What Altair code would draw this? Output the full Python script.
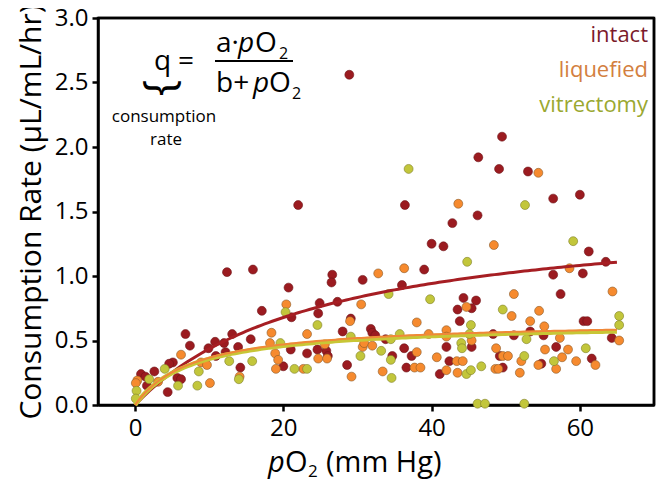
import altair as alt
import pandas as pd

FONT = "Open Sans"

series = ["intact", "liquefied", "vitrectomy"]

intact_x = [28.9, 49.5, 46.3, 49.1, 53.0, 36.4, 56.4, 60.0, 42.8, 46.2, 40.0, 41.6, 61.2, 63.5,
            39.0, 56.4, 60.4, 22.0, 12.4, 15.9, 26.6, 26.5, 30.7, 36.0, 20.7, 17.1, 21.1, 24.9,
            24.7, 27.3, 29.1, 28.0, 44.3, 46.0, 43.5, 45.4, 43.8, 31.8, 32.0, 32.4, 33.8, 45.4,
            34.7, 36.3, 37.3, 42.0, 42.4, 36.6, 41.1, 48.3, 51.1, 53.3, 55.1, 57.4, 60.5, 61.0,
            64.3, 56.8, 49.2, 61.6, 49.6, 54.8, 28.6, 21.0, 20.0, 23.2, 24.6, 25.8, 26.0, 15.6,
            13.9, 13.1, 14.2, 6.8, 7.4, 10.8, 12.0, 12.2, 9.9, 10.9, 5.1, 4.6, 2.6, 0.8, 1.4,
            1.6, 4.4, 5.7, 6.2]
intact_y = [2.56, 2.08, 1.92, 1.83, 1.81, 1.55, 1.60, 1.63, 1.41, 1.47, 1.25, 1.23, 1.19, 1.11,
            1.05, 1.01, 1.02, 1.55, 1.03, 1.05, 1.01, 0.95, 0.97, 0.93, 0.91, 0.73, 0.68, 0.79,
            0.71, 0.80, 0.67, 0.57, 0.83, 0.81, 0.74, 0.75, 0.65, 0.59, 0.56, 0.54, 0.51, 0.45,
            0.38, 0.44, 0.38, 0.45, 0.34, 0.29, 0.24, 0.55, 0.54, 0.57, 0.54, 0.86, 0.65, 0.65,
            0.52, 0.45, 0.38, 0.36, 0.29, 0.32, 0.31, 0.43, 0.30, 0.40, 0.43, 0.42, 0.38, 0.51,
            0.45, 0.55, 0.29, 0.55, 0.46, 0.49, 0.48, 0.41, 0.44, 0.38, 0.33, 0.32, 0.26, 0.24, 0.22,
            0.15, 0.10, 0.21, 0.20]

liquefied_x = [54.4, 43.6, 48.4, 36.3, 32.8, 58.6, 30.5, 20.4, 18.4, 18.2, 18.9, 19.3, 19.0, 22.7,
               23.2, 24.7, 25.9, 25.6, 29.0, 29.2, 30.7, 30.9, 14.1, 44.7, 38.0, 39.6, 42.0, 42.0,
               45.4, 32.0, 38.0, 40.7, 43.4, 44.2, 37.7, 38.5, 33.4, 42.0, 43.5, 48.7, 48.6, 51.1,
               64.4, 50.8, 54.5, 53.3, 55.2, 57.3, 65.3, 55.3, 58.4, 49.6, 50.3, 52.1, 57.6, 59.5,
               62.1, 49.0, 51.9, 54.4, 56.8, 6.2, 8.9, 9.7, 10.1, 3.1, 0.3, 0.1]
liquefied_y = [1.80, 1.56, 1.24, 1.06, 1.02, 1.06, 0.78, 0.78, 0.56, 0.48, 0.40, 0.35, 0.28, 0.28,
               0.55, 0.36, 0.36, 0.47, 0.65, 0.22, 0.45, 0.48, 0.22, 0.76, 0.64, 0.55, 0.58, 0.53,
               0.50, 0.46, 0.41, 0.37, 0.34, 0.34, 0.29, 0.29, 0.26, 0.27, 0.25, 0.44, 0.28, 0.86,
               0.88, 0.69, 0.73, 0.65, 0.61, 0.52, 0.50, 0.43, 0.43, 0.38, 0.38, 0.34, 0.37, 0.34,
               0.31, 0.28, 0.25, 0.31, 0.28, 0.39, 0.33, 0.31, 0.17, 0.18, 0.19, 0.17]

vitrectomy_x = [36.9, 52.6, 59.1, 44.8, 34.2, 39.8, 49.6, 20.3, 24.6, 45.3, 19.6, 29.1, 35.7, 34.5,
                45.1, 44.0, 44.1, 30.4, 33.2, 34.5, 34.6, 44.7, 45.3, 46.7, 21.5, 23.2, 15.8, 14.0,
                12.7, 8.6, 8.4, 5.8, 4.0, 1.9, 0.2, 0.1, 52.8, 52.5, 56.5, 60.8, 65.3, 65.3, 46.2,
                47.2, 52.5]
vitrectomy_y = [1.83, 1.55, 1.27, 1.11, 0.86, 0.82, 0.74, 0.72, 0.62, 0.62, 0.48, 0.53, 0.55, 0.51,
                0.55, 0.48, 0.44, 0.38, 0.42, 0.35, 0.21, 0.24, 0.27, 0.30, 0.28, 0.28, 0.34, 0.20,
                0.34, 0.26, 0.15, 0.15, 0.28, 0.20, 0.11, 0.05, 0.51, 0.38, 0.34, 0.44, 0.69, 0.62,
                0.01, 0.01, 0.01]

# Michaelis-Menten fit parameters q = a*pO2/(b+pO2)
fit_a = {"intact": 1.54, "liquefied": 0.655, "vitrectomy": 0.64}
fit_b = {"intact": 25.4, "liquefied": 7.9, "vitrectomy": 7.9}
fit_max_x = 65

x_domain = [-5, 70]
y_domain = [0, 3]
y_ticks = [0.0, 0.5, 1.0, 1.5, 2.0, 2.5, 3.0]
x_ticks = [0, 20, 40, 60]

fills = ["#9B1B20", "#F68A2E", "#C2C63B"]
strokes = ["#6E1418", "#8A5A2A", "#7F7F2A"]
legend_colors = ["#7B1A2A", "#D3803F", "#9AA830"]
line_colors = {"intact": "#A61E23", "liquefied": "#F08838", "vitrectomy": "#C8C636"}
line_widths = {"intact": 3, "liquefied": 2, "vitrectomy": 4.5}

rows = []
for k, (name, xs, ys) in enumerate([("intact", intact_x, intact_y),
                                     ("liquefied", liquefied_x, liquefied_y),
                                     ("vitrectomy", vitrectomy_x, vitrectomy_y)]):
    for i, (xv, yv) in enumerate(zip(xs, ys)):
        rows.append({"x": xv, "y": yv, "series": name, "ord": k * 1000 + i})
df = pd.DataFrame(rows)

W, H = 556, 387
OX, OY = 98, 18  # page position of plot origin

xscale = alt.Scale(domain=x_domain, nice=False, zero=False)
yscale = alt.Scale(domain=y_domain, nice=False)

x_axis = alt.Axis(values=x_ticks, title=None, grid=False, labelFont=FONT, labelFontSize=24,
                  labelColor="black", tickColor="black", tickWidth=2.5, tickSize=6,
                  domainColor="black", domainWidth=2.5, labelPadding=5)
y_axis = alt.Axis(values=y_ticks, format=".1f", title="Consumption Rate (µL/mL/hr)",
                  grid=False, labelFont=FONT, labelFontSize=24, labelColor="black",
                  tickColor="black", tickWidth=2.5, tickSize=6, domainColor="black",
                  domainWidth=2.5, labelPadding=4, titleFont=FONT, titleFontSize=30,
                  titleFontWeight="normal", titleColor="black", titlePadding=8)

one = pd.DataFrame({"k": [0]})

# plot box: right border (vertical rule at x max) and top border (horizontal rule at y max)
frame_right = alt.Chart(one).mark_rule(color="black", strokeWidth=2.5).encode(
    x=alt.XDatum(x_domain[1], type="quantitative", scale=xscale, axis=x_axis))
frame_top = alt.Chart(one).mark_rule(color="black", strokeWidth=2.5).encode(
    y=alt.YDatum(y_domain[1], type="quantitative", scale=yscale, axis=y_axis))

points = alt.Chart(df).mark_circle(size=80, opacity=1, strokeWidth=0.6).encode(
    x=alt.X("x:Q", scale=xscale, axis=x_axis),
    y=alt.Y("y:Q", scale=yscale, axis=y_axis),
    color=alt.Color("series:N", scale=alt.Scale(domain=series, range=fills), legend=None),
    stroke=alt.Stroke("series:N", scale=alt.Scale(domain=series, range=strokes), legend=None),
    order=alt.Order("ord:Q"),
)


def curve(name):
    a, b = fit_a[name], fit_b[name]
    return alt.Chart(alt.sequence(0, fit_max_x + 0.01, 0.5, as_="x")).transform_calculate(
        y=f"{a}*datum.x/({b}+datum.x)"
    ).mark_line(color=line_colors[name], strokeWidth=line_widths[name]).encode(
        x=alt.X("x:Q", scale=xscale, axis=x_axis),
        y=alt.Y("y:Q", scale=yscale, axis=y_axis),
    )


def txt(s, px, py, size, style="normal", align="left", baseline="alphabetic", color="black",
        angle=0, weight="normal"):
    return alt.Chart(one).mark_text(text=s, fontSize=size, fontStyle=style, align=align,
                                    baseline=baseline, color=color, angle=angle, font=FONT,
                                    fontWeight=weight).encode(
        x=alt.value(px - OX), y=alt.value(py - OY))


annot = [
    # equation
    txt("q", 154, 70, 28),
    txt("=", 178, 70, 28),
    txt("a·", 216, 52, 28),
    txt("p", 238, 52, 28, style="italic"),
    txt("O", 255, 52, 28),
    txt("2", 279, 59, 16),
    txt("b+", 216, 92, 28),
    txt("p", 253, 92, 28, style="italic"),
    txt("O", 269, 92, 28),
    txt("2", 292, 99, 16),
    txt("}", 163, 88, 44, align="center", baseline="middle", angle=90),
    txt("consumption", 164, 122, 17, align="center"),
    txt("rate", 166, 145, 17, align="center"),
    # legend labels
    txt("intact", 648, 42, 22, align="right", color=legend_colors[0]),
    txt("liquefied", 648, 77, 22, align="right", color=legend_colors[1]),
    txt("vitrectomy", 648, 112, 22, align="right", color=legend_colors[2]),
    # x axis title
    txt("p", 268, 472, 29, style="italic"),
    txt("O", 285, 472, 29),
    txt("2", 308, 477, 17),
    txt("(mm Hg)", 326, 472, 29),
]

frac_bar = alt.Chart(one).mark_rule(color="black", strokeWidth=2).encode(
    x=alt.value(215 - OX), x2=alt.value(293 - OX), y=alt.value(61 - OY), y2=alt.value(61 - OY))

chart = alt.layer(
    frame_top,
    frame_right,
    points,
    curve("intact"),
    curve("vitrectomy"),
    curve("liquefied"),
    frac_bar,
    *annot,
).properties(
    width=W, height=H,
    autosize=alt.AutoSizeParams(type="none"),
    padding={"left": 90, "top": 10, "right": 2, "bottom": 76},
).configure_view(stroke="black", strokeWidth=2.5)

chart.save("out.html", embed_options={"renderer": "svg", "actions": False})
